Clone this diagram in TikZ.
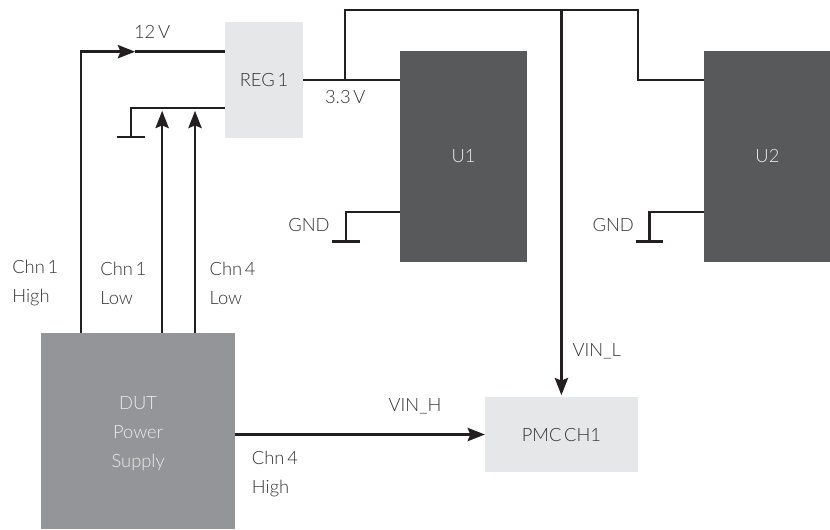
\documentclass[tikz,border=0pt]{standalone}
\usepackage{fontspec}
\setmainfont{Lato Light}[WordSpace=0.55]
\usepackage{xcolor}
\usetikzlibrary{
    arrows.meta,
    positioning,
    calc
}
\definecolor{wireink}{HTML}{231F20}
\definecolor{labelink}{HTML}{333335}
\definecolor{regfill}{HTML}{E6E7E8}
\definecolor{chipfill}{HTML}{58595B}
\definecolor{supplyfill}{HTML}{939598}
\tikzset{
    regbox/.style={
        minimum width=20.6mm,
        minimum height=30.7mm,
        outer sep=0pt,
        align=center,
        fill=regfill,
        text=labelink
    }
}
\tikzset{
    chipbox/.style={
        minimum width=33.6mm,
        minimum height=55.8mm,
        outer sep=0pt,
        align=center,
        fill=chipfill,
        text=black!8
    }
}
\tikzset{
    supplybox/.style={
        minimum width=51.3mm,
        minimum height=51.9mm,
        outer sep=0pt,
        align=center,
        fill=supplyfill,
        text=black!8
    }
}
\tikzset{
    wire/.style={
        draw=wireink,
        line width=1.8pt
    }
}
\tikzset{
    arrowwire/.style={
        wire,
        -{Stealth[length=13pt,width=10pt,inset=2pt]}
    }
}
\tikzset{
    tag/.style={
        text=labelink,
        inner sep=0pt,
        align=left
    }
}

\begin{document}
\begin{tikzpicture}[
    font=\fontsize{13.8}{21.75}\selectfont
]

\useasboundingbox (-69.85mm,21.17mm) rectangle (149.76mm,-118.8mm);

% ------------------------------------------------------------
% Boxes
% ------------------------------------------------------------

\node[regbox] (reg) at (0,0) {REG 1};

\node[chipbox, right=25.7mm of reg, yshift=-20.2mm] (u1) {U1};

\node[chipbox, right=46.8mm of u1] (u2) {U2};

\node[supplybox, below=51.6mm of reg, xshift=-33.3mm] (dut)
    {\rule{0pt}{14pt}DUT\\Power\\Supply};

\node[regbox, minimum width=40.5mm, minimum height=19.8mm,
    right=66.1mm of dut, yshift=-0.9mm] (pmc) {PMC CH1};

% ------------------------------------------------------------
% Helper coordinates
% ------------------------------------------------------------

\coordinate (chn1high) at ($(dut.north west)+(10.6mm,0)$);
\coordinate (chn1low) at ($(dut.north west)+(32mm,0)$);
\coordinate (chn4low) at ($(dut.north west)+(40.7mm,0)$);
\coordinate (regin) at ($(reg.west)+(0,7.5mm)$);
\coordinate (regout) at ($(reg.west)+(0,-7.4mm)$);
\coordinate (tip12v) at ($(regin)+(-23.8mm,0)$);
\coordinate (regcorner) at ($(regout)+(-24.9mm,0)$);
\coordinate (reggnd) at ($(regcorner)+(0,-7.7mm)$);
\coordinate (branch) at ($(u1.north west)+(-14.5mm,-7.7mm)$);
\coordinate (topleft) at ($(branch)+(0,18.5mm)$);
\coordinate (topright) at ($(topleft)+(77.5mm,0)$);
\coordinate (u2in) at ($(u2.north west)+(0,-7.7mm)$);
\coordinate (vinl) at ($(pmc.north)+(0,0.5mm)$);
\coordinate (u1side) at ($(u1.south west)+(0,13.2mm)$);
\coordinate (u2side) at ($(u2.south west)+(0,13.2mm)$);
\coordinate (u1corner) at ($(u1side)+(-14.3mm,0)$);
\coordinate (u2corner) at ($(u2side)+(-14.4mm,0)$);
\coordinate (u1gnd) at ($(u1corner)+(0,-7.8mm)$);
\coordinate (u2gnd) at ($(u2corner)+(0,-7.8mm)$);

% ------------------------------------------------------------
% Wires
% ------------------------------------------------------------

\draw[arrowwire] (chn1high) |- (tip12v);
\draw[wire] (tip12v) -- (regin);

\draw[wire] (regout) -- (regcorner) -- (reggnd);
\draw[wire] ($(reggnd)+(-3.6mm,0)$) -- ($(reggnd)+(3.6mm,0)$);

\draw[arrowwire] (chn1low) -- ++(0,58.8mm);
\draw[arrowwire] (chn4low) -- ++(0,58.8mm);

\draw[wire] (reg.east |- branch) -- (branch -| u1.west);
\draw[wire] (branch) -- (topleft) -- (topright) |- (u2in);

\draw[arrowwire] (vinl |- topleft) -- (vinl);
\draw[arrowwire] (dut.east |- pmc.west) -- (pmc.west);

\draw[wire] (u1side) -- (u1corner) -- (u1gnd);
\draw[wire] ($(u1gnd)+(-3.7mm,0)$) -- ($(u1gnd)+(3.7mm,0)$);

\draw[wire] (u2side) -- (u2corner) -- (u2gnd);
\draw[wire] ($(u2gnd)+(-3.7mm,0)$) -- ($(u2gnd)+(3.7mm,0)$);

% ------------------------------------------------------------
% Labels
% ------------------------------------------------------------

\node[tag] (label12v) at ($(tip12v)+(4.5mm,5.2mm)$) {12 V};
\node[tag] (label33v) at ($(branch)+(0,-4.5mm)$) {3.3 V};
\node[tag] (gndu1) at ($(u1gnd)+(-9.8mm,4.3mm)$) {GND};
\node[tag] (gndu2) at ($(u2gnd)+(-9.6mm,4.3mm)$) {GND};

\node[tag, anchor=west] (highone) at ($(dut.north west)+(-7.7mm,13.2mm)$)
    {Chn 1\\High};
\node[tag, anchor=west] (lowone) at ($(dut.north west)+(15.6mm,13.2mm)$)
    {Chn 1\\Low};
\node[tag, anchor=west] (lowfour) at ($(dut.north west)+(44.5mm,13.2mm)$)
    {Chn 4\\Low};
\node[tag, anchor=west] (highfour) at ($(dut.east)+(4.4mm,-11.4mm)$)
    {Chn 4\\High};

\node[tag] (vinhigh) at ($(pmc.west)+(-18.5mm,7.6mm)$) {VIN\_H};
\node[tag, anchor=west] (vinlow) at ($(pmc.north)+(2.9mm,12mm)$) {VIN\_L};

\end{tikzpicture}
\end{document}
